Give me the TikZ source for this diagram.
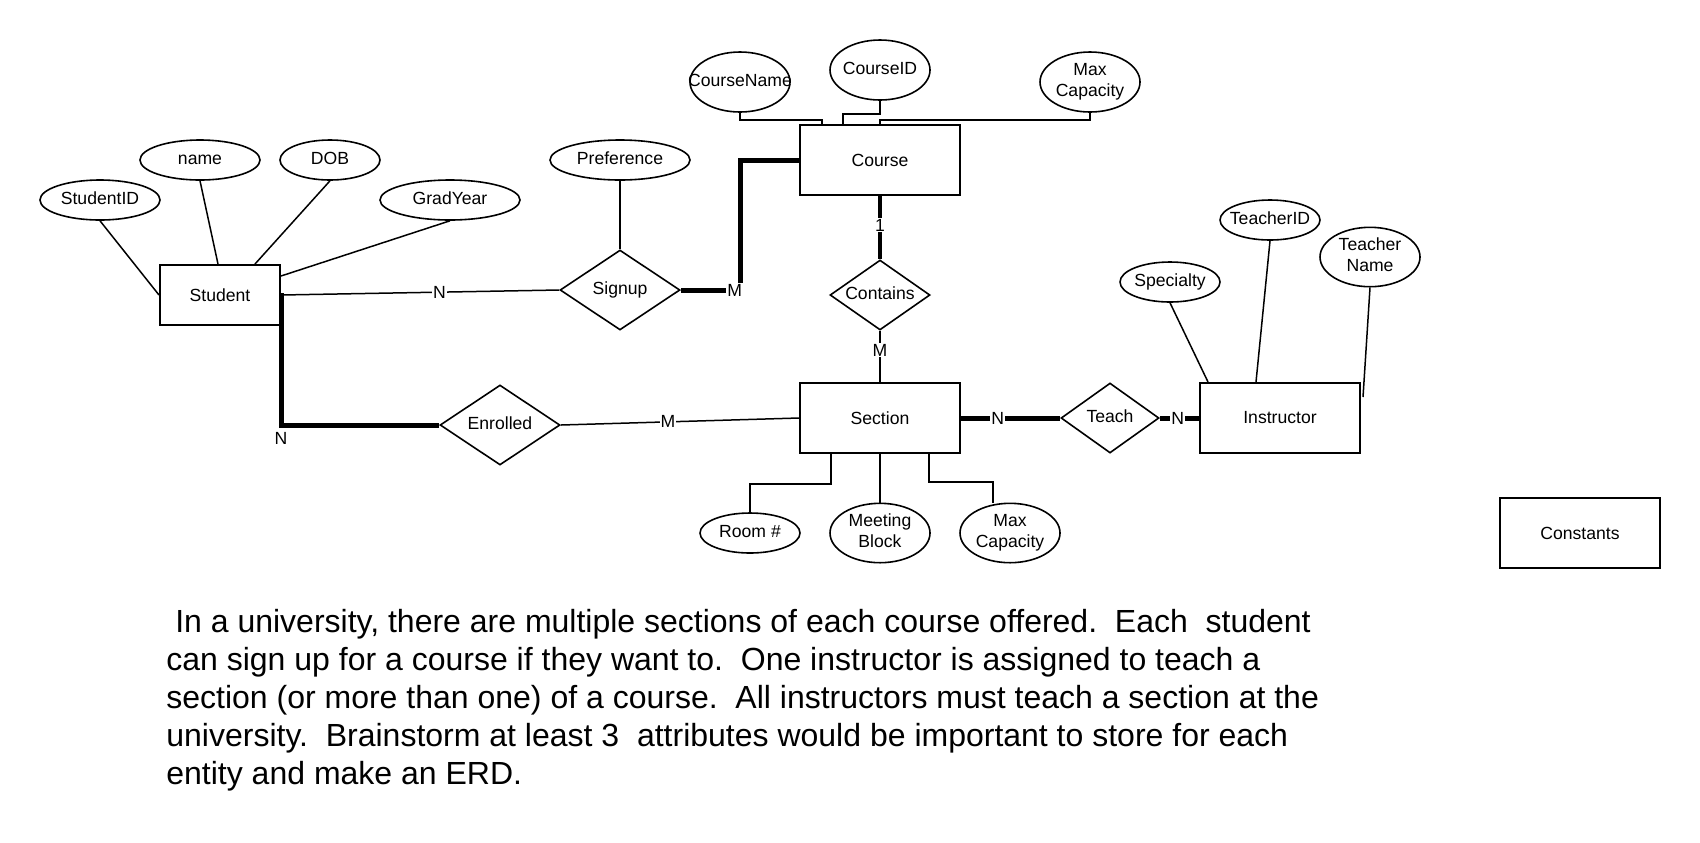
\documentclass[tikz,border=0pt]{standalone}
\usepackage{fontspec}
\setmainfont{Liberation Sans}
\usetikzlibrary{shapes.geometric}
\frenchspacing
\newcommand{\erdfont}{\fontsize{8.8}{10.5}\selectfont}
\newcommand{\attlabel}[1]{\makebox[0pt]{\begin{tabular}{@{}c@{}}#1\end{tabular}}}
\tikzset{
  entity/.style={
    draw, line width=1pt,
    rectangle,
    minimum width=80pt,
    minimum height=35pt,
    inner sep=0pt,
    font=\erdfont
  },
  attr/.style={
    draw, line width=0.8pt,
    ellipse,
    minimum width=50pt,
    minimum height=20pt,
    inner sep=0pt,
    font=\erdfont
  },
  relation/.style={
    draw, line width=0.8pt,
    diamond, aspect=1.5,
    minimum width=60pt,
    minimum height=40pt,
    inner sep=0pt,
    font=\erdfont
  },
  link/.style={line width=0.75pt},
  strong/.style={line width=2.5pt},
  card/.style={
    font=\erdfont,
    fill=white,
    inner sep=0.5pt
  }
}

\begin{document}
\begin{tikzpicture}[x=0.5pt, y=-0.5pt]
  \fill[white] (0,0) rectangle (1700,842);
  \useasboundingbox (0,0) rectangle (1700,842);

  \node[entity, minimum width=60pt, minimum height=30pt] (student) at (220,295) {Student};
  \node[attr, minimum width=60pt] (studentid) at (100,200) {\attlabel{StudentID}};
  \node[attr, minimum width=60pt] (sname) at (200,160) {\attlabel{name}};
  \node[attr] (dob) at (330,160) {\attlabel{DOB}};
  \node[attr, minimum width=70pt] (gradyear) at (450,200) {\attlabel{GradYear}};

  \node[relation] (signup) at (620,290) {\attlabel{Signup}};
  \node[attr, minimum width=70pt] (pref) at (620,160) {\attlabel{Preference}};
  \node[relation] (enrolled) at (500,425) {\attlabel{Enrolled}};

  \node[entity] (course) at (880,160) {Course};
  \node[attr, minimum height=30pt] (cname) at (740,82) {\attlabel{CourseName}};
  \node[attr, minimum height=30pt] (cid) at (880,70) {\attlabel{CourseID}};
  \node[attr, minimum height=30pt] (cmax) at (1090,82) {\attlabel{Max\\Capacity}};
  \node[relation, minimum width=50pt, minimum height=35pt] (contains) at (880,295) {\attlabel{Contains}};

  \node[entity] (section) at (880,418) {Section};
  \node[attr] (room) at (750,533) {\attlabel{Room \#}};
  \node[attr, minimum height=27pt] (meet) at (880,533) {\attlabel{Meeting\\Block}};
  \node[attr, minimum height=27pt] (smax) at (1010,533) {\attlabel{Max\\Capacity}};

  \node[relation, minimum width=49pt, minimum height=35pt] (teach) at (1110,418) {\attlabel{Teach}};
  \node[entity] (instructor) at (1280,418) {Instructor};
  \node[attr] (specialty) at (1170,282) {\attlabel{Specialty}};
  \node[attr] (teacherid) at (1270,220) {\attlabel{TeacherID}};
  \node[attr, minimum height=27pt] (tname) at (1370,257) {\attlabel{Teacher\\Name}};

  \node[entity] (constants) at (1580,533) {Constants};

  \draw[link] (studentid.south) -- (student.west);
  \draw[link] (sname.south) -- ([xshift=-1pt]student.north);
  \draw[link] (dob.south) -- ([xshift=17.5pt]student.north);
  \draw[link] (gradyear.south) -- ([yshift=-6pt]student.north east);

  \draw[link] (student.east) -- node[card, pos=0.57] {N} (signup.west);
  \draw[strong] ([yshift=1pt]student.east) |- node[card, pos=0.5, below=2pt] {N} (enrolled.west);
  \draw[link] (pref.south) -- (signup.north);
  \draw[strong] (signup.east) -- node[card, pos=0.9] {M} ++(60,0) |- (course.west);
  \draw[link] (enrolled.east) -- node[card, pos=0.45] {M} (section.west);

  \draw[link] (cname.south) -- ++(0,7) -| ([xshift=11.5pt]course.north west);
  \draw[link] (cid.south) -- ++(0,13) -| ([xshift=22pt]course.north west);
  \draw[link] (cmax.south) -- ++(0,7) -| (course.north);
  \draw[strong, line width=2pt] (course.south) -- node[card, pos=0.46] {1} (contains.north);
  \draw[link] (contains.south) -- node[card, pos=0.38] {M} (section.north);

  \draw[link] ([xshift=16pt]section.south west) -- ++(0,30) -| (room.north);
  \draw[link] (section.south) -- (meet.north);
  \draw[link] ([xshift=-16pt]section.south east) -- ++(0,28) -| ([xshift=-8.5pt]smax.north);

  \draw[strong] (section.east) -- node[card, pos=0.37] {N} (teach.west);
  \draw[strong] (teach.east) -- node[card, pos=0.46] {N} (instructor.west);
  \draw[link] (specialty.south) -- ([xshift=4.5pt]instructor.north west);
  \draw[link] (teacherid.south) -- ([xshift=28.5pt]instructor.north west);
  \draw[link] (tname.south) -- ([xshift=1pt, yshift=-7.5pt]instructor.north east);

  \node[anchor=north west, align=left, inner sep=0pt, font=\fontsize{16}{19}\selectfont] (task) at (166,609)
    {\ In a university, there are multiple sections of each course offered.\ \ Each\ \ student\\
     can sign up for a course if they want to.\ \ One instructor is assigned to teach a\\
     section (or more than one) of a course.\ \ All instructors must teach a section at the\\
     university.\ \ Brainstorm at least 3\ \ attributes would be important to store for each\\
     entity and make an ERD.};
\end{tikzpicture}
\end{document}
